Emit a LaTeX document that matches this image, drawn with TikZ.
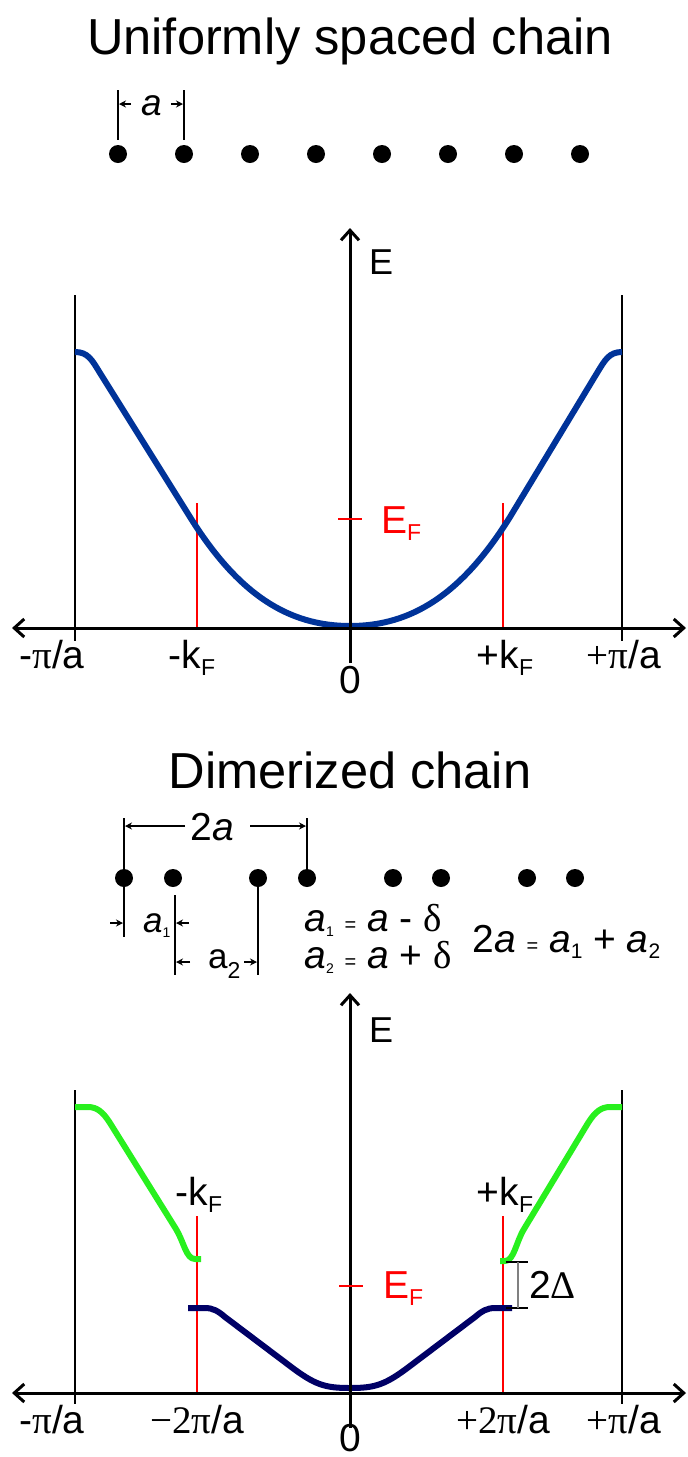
\documentclass[tikz,border=0pt]{standalone}
\usepackage{fontspec}
\setmainfont{Liberation Sans}
\newfontfamily\grkfont{Liberation Serif}
\usetikzlibrary{arrows.meta}
\definecolor{bandblue}{RGB}{0,51,153}
\definecolor{bandnavy}{RGB}{0,0,102}
\definecolor{bandgreen}{RGB}{40,240,30}
\newcommand{\fsz}[1]{\fontsize{#1}{#1}\selectfont}
\newcommand{\subF}{\raisebox{-3.5pt}{\fsz{11.5}F}}
\newcommand{\tinysub}[1]{\raisebox{-2.5pt}{\fsz{7}#1}}

\begin{document}
\begin{tikzpicture}[x=0.5pt,y=-0.5pt,
  axis/.style={line width=1.5pt,{Straight Barb[length=5pt,width=9pt]}-{Straight Barb[length=5pt,width=9pt]}},
  eaxis/.style={line width=1.5pt,-{Straight Barb[length=5pt,width=9pt]}},
  zone/.style={line width=1pt},
  kfline/.style={line width=1.1pt,red},
  dimline/.style={line width=0.9pt},
  dimarrow/.style={line width=0.7pt,-{Stealth[length=3.5pt,width=3.5pt]}},
  band/.style={line width=3pt,line join=round},
  lab/.style={font=\fsz{19.5}},
  eqn/.style={font=\fsz{19.5},inner sep=0pt,anchor=base west},
  ttl/.style={font=\fsz{25.3}}]
  \useasboundingbox (0,0) rectangle (688,1457);

  % uniform chain
  \node[ttl,anchor=base] (ttlA) at (350,54) {Uniformly spaced chain};
  \fill (118,154) circle (9);
  \fill (184,154) circle (9);
  \fill (250,154) circle (9);
  \fill (316,154) circle (9);
  \fill (382,154) circle (9);
  \fill (448,154) circle (9);
  \fill (514,154) circle (9);
  \fill (580,154) circle (9);
  \draw[dimline] (118,90) -- (118,140);
  \draw[dimline] (184,90) -- (184,140);
  \draw[dimarrow] (131,104) -- (119,104);
  \draw[dimarrow] (171,104) -- (183,104);
  \node[font=\fsz{18.5}\itshape,anchor=base] (lenA) at (152,115) {a};

  % band of the uniform chain
  \draw[zone] (75,295) -- (75,641);
  \draw[zone] (622,295) -- (622,641);
  \draw[kfline] (197,503) -- (197,628);
  \draw[kfline] (503,503) -- (503,628);
  \draw[band,bandblue] (75,352) .. controls (88,352) and (92,360) .. (100,373)
    -- (190,517) .. controls (238,594) and (288,626) .. (350,626)
    .. controls (412,626) and (462,594) .. (510,517)
    -- (597,373) .. controls (605,360) and (609,352) .. (622,352);
  \draw[axis] (12,628) -- (686,628);
  \draw[eaxis] (350,663) -- (350,228);
  \draw[kfline] (338,519) -- (362,519);
  \node[font=\fsz{18},anchor=base west] (enA) at (362,274) {E};
  \node[lab,red,anchor=base west] (efA) at (374,533) {E\subF};
  \node[lab,anchor=base] (kmA) at (52,668) {-{\grkfont π}/a};
  \node[lab,anchor=base] (kfmA) at (192,668) {-k\subF};
  \node[lab,anchor=base] (zeroA) at (350,693) {0};
  \node[lab,anchor=base] (kfpA) at (505,668) {+k\subF};
  \node[lab,anchor=base] (kpA) at (624,668) {{\grkfont +π}/a};

  % dimerized chain
  \node[ttl,anchor=base] (ttlB) at (350,788) {Dimerized chain};
  \fill (124,878) circle (9);
  \fill (173,878) circle (9);
  \fill (258,878) circle (9);
  \fill (307,878) circle (9);
  \fill (393,878) circle (9);
  \fill (441,878) circle (9);
  \fill (527,878) circle (9);
  \fill (575,878) circle (9);
  \draw[dimline] (124,818) -- (124,937);
  \draw[dimline] (307,818) -- (307,878);
  \draw[dimline] (175,895) -- (175,975);
  \draw[dimline] (258,878) -- (258,975);
  \draw[dimarrow] (185,826) -- (125,826);
  \draw[dimarrow] (250,826) -- (306,826);
  \draw[dimarrow] (110,923) -- (123,923);
  \draw[dimarrow] (189,923) -- (176,923);
  \draw[dimarrow] (190,962) -- (176,962);
  \draw[dimarrow] (244,962) -- (257,962);
  \node[lab,anchor=base] (lenB) at (212,840) {2\textit{a}};
  \node[font=\fsz{17.5},anchor=base west] (lenA1) at (136,932) {\textit{a}\tinysub{1}};
  \node[font=\fsz{17.5},anchor=base west] (lenA2) at (201,968) {a\raisebox{-5pt}{\fsz{11.5}2}};
  \node[eqn] (eqA1) at (304,931) {\textit{a}\tinysub{1} {\fsz{10}=} \textit{a} - {\grkfont δ}};
  \node[eqn] (eqA2) at (304,968) {\textit{a}\tinysub{2} {\fsz{10}=} \textit{a} + {\grkfont δ}};
  \node[eqn] (eqSum) at (472,952) {2\textit{a} {\fsz{10}=} \textit{a}\raisebox{-3pt}{\fsz{10.5}1} + \textit{a}\raisebox{-3pt}{\fsz{10.5}2}};

  % bands of the dimerized chain
  \draw[zone] (75,1090) -- (75,1404);
  \draw[zone] (622,1090) -- (622,1404);
  \draw[kfline] (197,1216) -- (197,1393);
  \draw[kfline] (503,1216) -- (503,1393);
  \draw[band,bandgreen] (75,1107) -- (88,1107) .. controls (97,1107) and (103,1112) .. (110,1123)
    -- (176,1229) .. controls (184,1242) and (186,1259) .. (195,1259) -- (201,1259);
  \draw[band,bandgreen] (622,1107) -- (610,1107) .. controls (601,1107) and (595,1112) .. (588,1123)
    -- (524,1229) .. controls (516,1242) and (514,1261) .. (505,1261) -- (500,1261);
  \draw[band,bandnavy] (188,1308) -- (205,1308) .. controls (213,1308) and (218,1311) .. (225,1317)
    -- (290,1366) .. controls (315,1385) and (325,1388) .. (350,1388)
    .. controls (375,1388) and (385,1385) .. (410,1366)
    -- (475,1317) .. controls (482,1311) and (487,1308) .. (495,1308) -- (512,1308);
  \draw[axis] (12,1393) -- (686,1393);
  \draw[eaxis] (350,1428) -- (350,993);
  \draw[kfline] (339,1286) -- (363,1286);
  \draw[line width=0.8pt] (506,1262) -- (528,1262);
  \draw[line width=0.8pt] (506,1308) -- (528,1308);
  \draw[line width=0.8pt,gray] (518,1262) -- (518,1308);
  \node[lab,anchor=base west] (gapB) at (522,1298) {2{\grkfont Δ}};
  \node[font=\fsz{18},anchor=base west] (enB) at (362,1042) {E};
  \node[lab,red,anchor=base west] (efB) at (376,1298) {E\subF};
  \node[lab,anchor=base] (kfmB) at (199,1205) {-k\subF};
  \node[lab,anchor=base] (kfpB) at (505,1205) {+k\subF};
  \node[lab,anchor=base] (kmB) at (52,1433) {-{\grkfont π}/a};
  \node[lab,anchor=base] (kdmB) at (197,1433) {{\grkfont −2π}/a};
  \node[lab,anchor=base] (zeroB) at (350,1451) {0};
  \node[lab,anchor=base] (kdpB) at (503,1433) {{\grkfont +2π}/a};
  \node[lab,anchor=base] (kpB) at (624,1433) {{\grkfont +π}/a};
\end{tikzpicture}
\end{document}
